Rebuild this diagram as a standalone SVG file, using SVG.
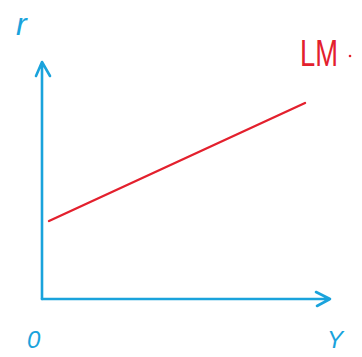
<svg xmlns="http://www.w3.org/2000/svg" width="362" height="357" viewBox="0 0 362 357">
<style>
.ax{fill:none;stroke:#1aa3dc;stroke-width:2.6;stroke-linecap:round;stroke-linejoin:round}
.lm{fill:none;stroke:#e3202d;stroke-width:2.4;stroke-linecap:round}
.tb{fill:#1aa3dc;font-family:"Liberation Sans",sans-serif;font-style:italic}
.tr{fill:#e3202d;font-family:"Liberation Sans",sans-serif}
</style>
<g id="connectors">
<path class="ax" d="M42,299 V62 M36,76 L42,62 L50,76"/>
<path class="ax" d="M42,299 H330 M316,292 L330,299 L317,306"/>
</g>
<g id="lm-curve">
<path class="lm" d="M49,221 L305,103"/>
<text class="tr" x="300" y="66" font-size="37" textLength="38" lengthAdjust="spacingAndGlyphs">LM</text>
<circle cx="350" cy="56" r="1.3" fill="#e3202d"/>
</g>
<g id="label-r">
<text class="tb" x="16" y="35" font-size="32">r</text>
</g>
<g id="label-origin">
<text class="tb" x="27" y="348" font-size="24">0</text>
</g>
<g id="label-y">
<text class="tb" x="327" y="348" font-size="24">Y</text>
</g>
</svg>
